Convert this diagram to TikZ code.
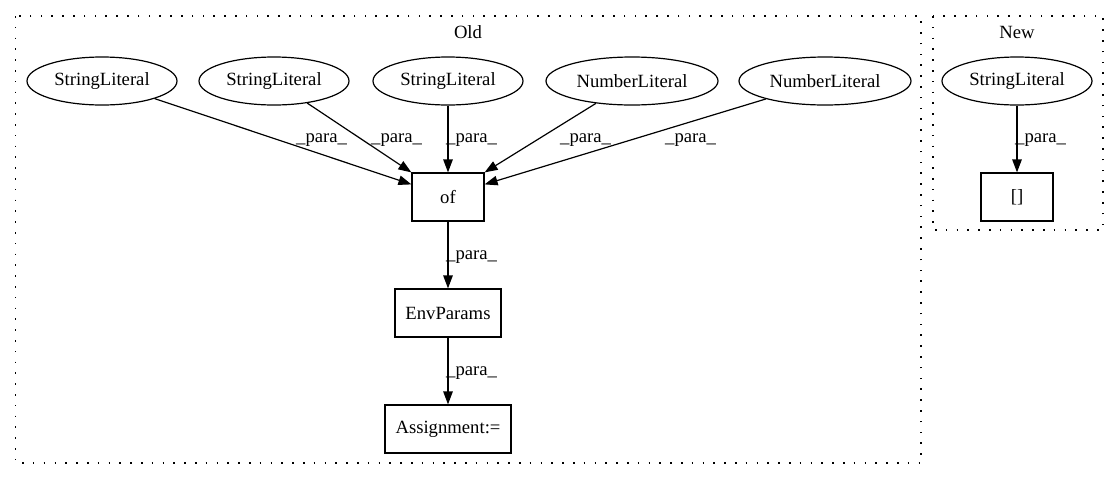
\documentclass[tikz,border=0pt]{standalone}
\usepackage{fontspec}
\setmainfont{Liberation Serif}
\usetikzlibrary{shapes.geometric,arrows.meta}
\tikzset{
  base/.style={draw, line width=1.2pt, inner sep=0pt, font=\fontsize{18.67}{22}\selectfont},
  lit/.style={base, ellipse, minimum height=48pt},
  box/.style={base, rectangle, minimum height=48pt},
  edge/.style={line width=1.2pt, -{Triangle[length=13pt, width=9.5pt]}},
  lbl/.style={inner sep=0pt, anchor=west, font=\fontsize{18.67}{22}\selectfont},
  cluster/.style={line width=1.3pt, dash pattern=on 1.6pt off 9.2pt},
  ctitle/.style={inner sep=0pt, font=\fontsize{18.67}{22}\selectfont}
}
\begin{document}
\begin{tikzpicture}[x=1pt,y=-1pt]
\useasboundingbox (0,0) rectangle (1119,480);
% clusters
\draw[cluster] (15.5,16) rectangle (921,463);
\draw[cluster] (933,16) rectangle (1103,230);
\node[ctitle] (oldt) at (468,32) {Old};
\node[ctitle] (newt) at (1017,32) {New};
% nodes Old
\node[lit, minimum width=150pt] (sl1) at (102,81) {StringLiteral};
\node[lit, minimum width=150pt] (sl2) at (274,81) {StringLiteral};
\node[lit, minimum width=150pt] (sl3) at (448,81) {StringLiteral};
\node[lit, minimum width=172pt] (nl1) at (632,81) {NumberLiteral};
\node[lit, minimum width=172pt] (nl2) at (825,81) {NumberLiteral};
\node[box, minimum width=72pt] (of) at (448,197) {of};
\node[box, minimum width=106pt] (env) at (448,313) {EnvParams};
\node[box, minimum width=126pt] (asg) at (448,429) {Assignment:=};
% nodes New
\node[lit, minimum width=150pt] (nsl) at (1017,81) {StringLiteral};
\node[box, minimum width=72pt] (br) at (1017,197) {[]};
% edges
\coordinate (ofl) at ([yshift=-12pt]of.north west);
\coordinate (ofr) at ([yshift=-12pt]of.north east);
\draw[edge] (sl1) -- (ofl);
\draw[edge] (sl2) -- (of.north west);
\draw[edge] (sl3) -- (of);
\draw[edge] (nl1) -- (of.north east);
\draw[edge] (nl2) -- (ofr);
\draw[edge] (of) -- (env);
\draw[edge] (env) -- (asg);
\draw[edge] (nsl) -- (br);
% labels
\node[lbl] (l1) at (296,140) {\_para\_};
\node[lbl] (l2) at (371,140) {\_para\_};
\node[lbl] (l3) at (446,140) {\_para\_};
\node[lbl] (l4) at (560,140) {\_para\_};
\node[lbl] (l5) at (665,140) {\_para\_};
\node[lbl] (l6) at (446,257) {\_para\_};
\node[lbl] (l7) at (446,373) {\_para\_};
\node[lbl] (l8) at (1015,140) {\_para\_};
\end{tikzpicture}
\end{document}
